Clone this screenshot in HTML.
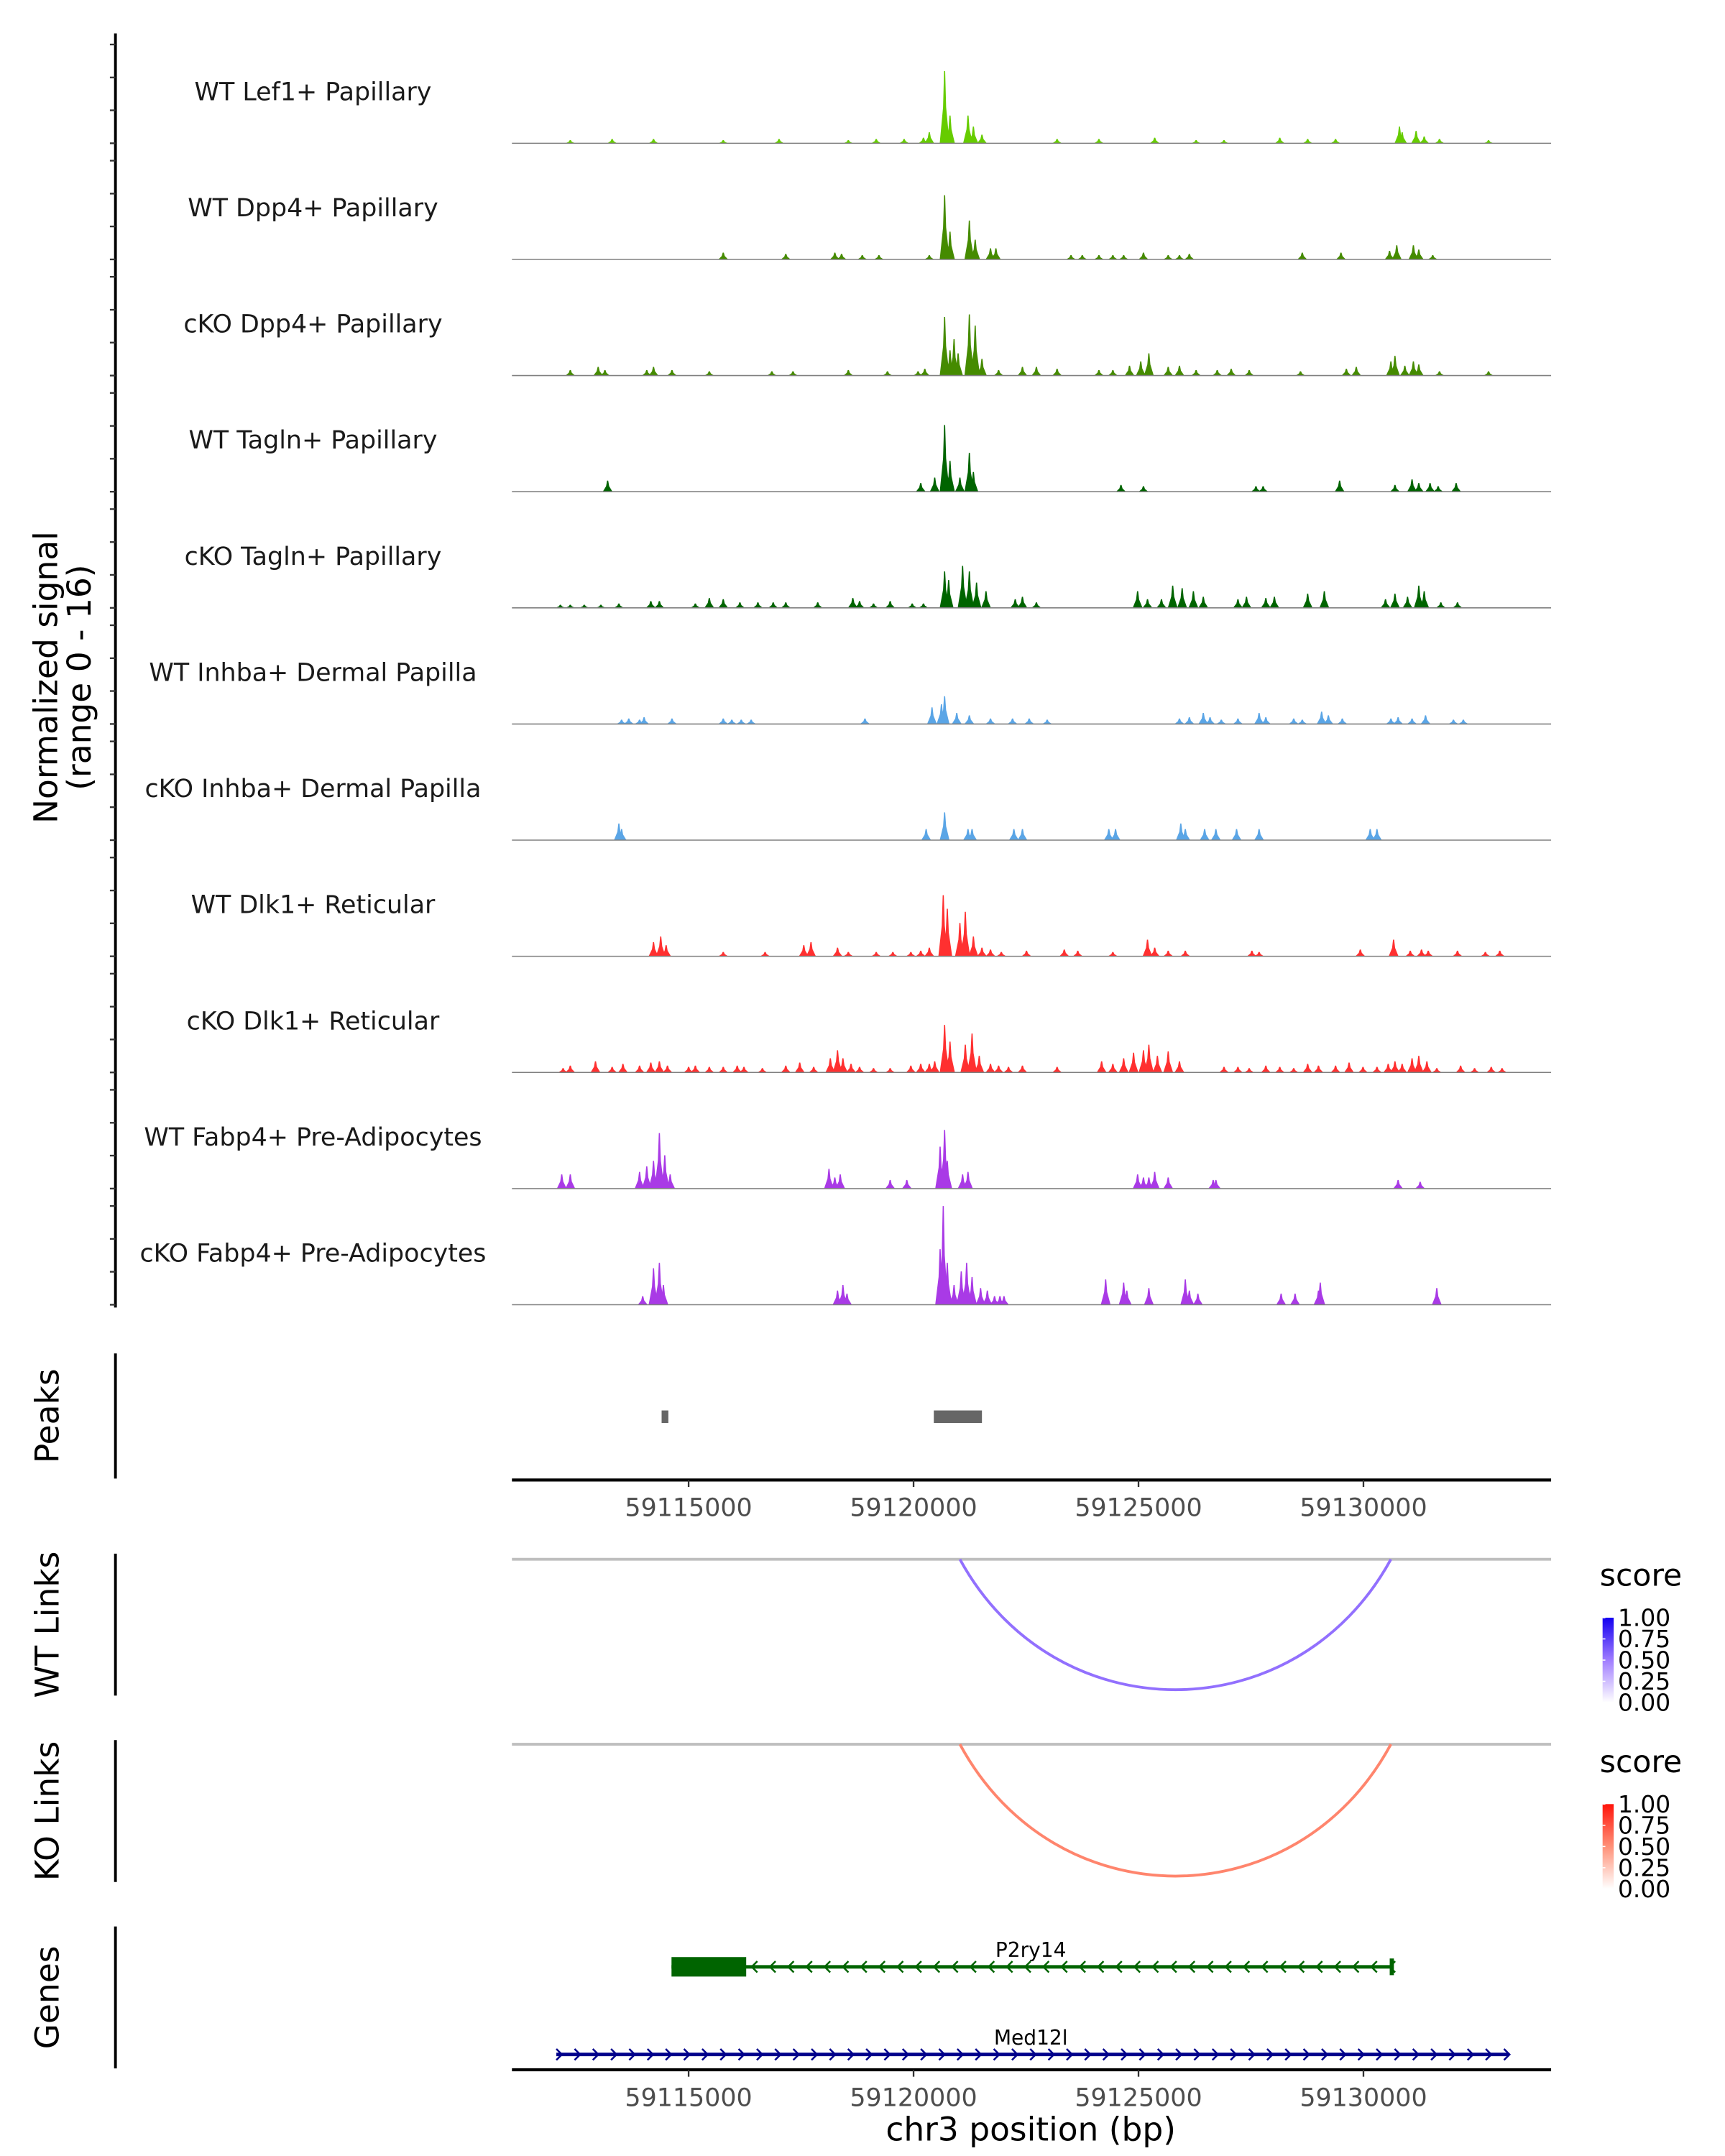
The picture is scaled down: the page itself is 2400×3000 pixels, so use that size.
<!DOCTYPE html>
<html><head><meta charset="utf-8"><style>
html,body{margin:0;padding:0;background:#fff;}
svg{display:block;font-family:"DejaVu Sans","Liberation Sans",sans-serif;}
</style></head><body>
<svg id="chart" width="2400" height="3000" viewBox="0 0 1240 1550" xmlns="http://www.w3.org/2000/svg">
<rect width="1240" height="1550" fill="#fff"/>
</svg>
<script>
// Positions are kb beyond 59,110,000 bp; values are normalized signal (0-16)
const trackNames = ["WT Lef1+ Papillary","WT Dpp4+ Papillary","cKO Dpp4+ Papillary","WT Tagln+ Papillary","cKO Tagln+ Papillary","WT Inhba+ Dermal Papilla","cKO Inhba+ Dermal Papilla","WT Dlk1+ Reticular","cKO Dlk1+ Reticular","WT Fabp4+ Pre-Adipocytes","cKO Fabp4+ Pre-Adipocytes"];
const trackColors = ["#66cc00","#458b00","#458b00","#006400","#006400","#5aa5e6","#5aa5e6","#ff3030","#ff3030","#a93ae6","#a93ae6"];
const pos0 = [10.69,10.81,11.21,11.33,11.52,10.35,10.22,20.80,20.86,21.17,21.35,21.69,15.36,18.14,18.76,16.28,2.37,3.30,4.22,5.77,7.01,8.55,9.17,9.79,13.19,14.12,16.90,19.38,22.78];
const val0 = [11.7,4.5,4.5,2.7,1.4,1.8,0.9,2.7,1.8,2.0,1.1,0.7,0.9,0.9,0.7,0.5,0.5,0.7,0.7,0.5,0.7,0.5,0.7,0.7,0.7,0.7,0.5,0.7,0.5];
const pos1 = [10.69,10.81,11.24,11.37,11.71,11.83,5.77,7.16,8.25,8.40,8.86,9.23,10.35,13.50,13.75,14.12,14.43,14.67,15.11,15.66,15.91,16.13,18.64,19.50,20.58,20.74,21.11,21.23,21.54];
const val1 = [10.4,4.5,6.3,3.2,1.8,1.8,1.1,0.9,1.1,0.9,0.7,0.7,0.7,0.7,0.7,0.7,0.7,0.7,1.1,0.7,0.7,0.9,1.1,1.1,1.4,2.3,2.3,1.6,0.7];
const pos2 = [10.69,10.81,10.99,11.24,11.37,10.90,11.52,2.37,2.99,3.14,4.07,4.22,4.63,5.46,6.85,7.32,8.55,9.42,10.10,10.25,11.89,12.42,12.73,13.19,14.12,14.43,14.80,15.05,15.23,15.66,15.91,16.28,16.75,17.06,17.46,18.60,19.62,19.84,20.61,20.70,20.92,21.11,21.23,21.69,22.78];
const val2 = [9.5,4.1,3.6,9.9,8.1,5.9,2.7,0.9,1.4,0.9,0.9,1.4,0.9,0.7,0.7,0.7,0.9,0.7,0.7,1.1,0.9,1.4,1.4,1.1,0.9,0.9,1.6,2.3,3.6,1.4,1.6,0.9,0.9,1.1,0.9,0.7,1.1,1.4,2.3,3.2,1.6,2.3,1.8,0.7,0.7];
const pos3 = [10.69,10.81,11.24,11.33,10.16,10.47,11.03,3.20,14.61,15.11,17.61,17.77,19.47,20.70,21.08,21.23,21.48,21.66,22.06];
const val3 = [10.8,5.0,6.3,3.2,1.4,2.3,2.3,1.8,1.1,0.9,0.9,0.9,1.8,1.1,2.0,1.4,1.4,0.9,1.4];
const pos4 = [10.69,10.78,11.09,11.24,11.40,11.61,2.15,2.37,2.68,3.05,3.45,4.16,4.35,5.15,5.46,5.77,6.14,6.54,6.88,7.16,7.87,8.65,8.80,9.11,9.48,9.97,10.22,12.26,12.42,12.73,14.98,15.20,15.51,15.76,15.97,16.22,16.44,17.21,17.40,17.83,18.02,18.76,19.13,20.49,20.70,20.98,21.23,21.35,21.72,22.09];
const val4 = [5.9,4.5,6.8,5.9,4.1,2.7,0.5,0.5,0.5,0.5,0.7,1.1,1.1,0.7,1.6,1.4,0.9,0.9,0.9,0.9,0.9,1.6,1.1,0.7,1.1,0.7,0.7,1.4,1.8,0.9,2.7,1.4,1.4,3.6,3.2,2.7,1.8,1.4,1.8,1.6,1.8,2.3,2.7,1.4,2.3,1.8,3.6,2.7,0.9,0.9];
const pos5 = [10.69,10.62,10.41,10.96,11.24,11.71,3.51,3.67,3.91,4.01,4.63,5.77,5.96,6.17,6.39,8.92,12.20,12.57,12.97,15.91,16.13,16.44,16.59,16.84,17.21,17.68,17.83,18.45,18.64,19.07,19.22,19.53,20.61,20.77,21.08,21.38,22.00,22.22];
const val5 = [4.5,3.2,2.7,1.8,1.4,0.9,0.7,0.9,0.7,1.1,0.9,0.9,0.7,0.7,0.7,0.9,0.9,0.9,0.7,0.9,1.1,1.8,1.1,0.7,0.9,1.8,1.1,0.9,0.7,2.0,1.4,0.9,0.9,1.1,0.9,1.4,0.7,0.7];
const pos6 = [3.45,3.51,10.69,10.28,11.21,11.30,12.23,12.42,14.34,14.49,15.94,16.04,16.47,16.72,17.18,17.68,20.15,20.30];
const val6 = [2.7,1.8,4.5,1.8,1.8,1.8,1.8,1.8,1.8,1.8,2.7,1.8,1.8,1.8,1.8,1.8,1.8,1.8];
const pos7 = [10.66,10.75,11.15,11.03,11.33,11.52,11.71,4.22,4.38,4.50,5.77,6.70,7.56,7.72,8.31,8.55,9.17,9.54,9.94,10.16,10.35,11.95,12.51,13.35,13.65,14.43,15.20,15.36,15.66,16.04,17.52,17.68,19.93,20.67,21.04,21.29,21.44,22.09,22.71,23.03];
const val7 = [9.9,7.7,7.2,5.4,3.2,1.4,1.1,2.3,3.2,1.8,0.7,0.7,1.8,2.3,1.4,0.7,0.7,0.7,0.7,0.9,1.4,0.7,0.9,1.1,0.9,0.7,2.7,1.4,0.9,0.9,0.9,0.7,1.1,2.7,0.9,1.1,0.9,0.9,0.7,0.9];
const pos8 = [10.69,10.81,11.15,11.30,11.46,2.21,2.37,2.93,3.30,3.54,3.91,4.16,4.35,4.53,5.00,5.15,5.46,5.77,6.08,6.23,6.64,7.16,7.47,7.78,8.15,8.31,8.43,8.61,8.80,9.11,9.48,9.94,10.16,10.35,10.47,11.71,11.89,12.11,12.42,13.19,14.18,14.43,14.67,14.89,15.11,15.23,15.42,15.66,15.91,16.90,17.21,17.46,17.83,18.14,18.45,18.76,19.00,19.38,19.68,19.99,20.30,20.55,20.70,20.86,21.08,21.23,21.41,21.63,22.16,22.47,22.84,23.08];
const val8 = [7.7,5.0,4.5,6.3,2.7,0.7,1.1,1.8,0.9,1.4,1.1,1.6,1.8,1.1,0.9,1.1,0.9,0.9,1.1,0.9,0.7,1.1,1.6,0.9,2.3,3.6,2.3,1.4,0.9,0.7,0.7,1.1,1.4,1.4,1.8,1.4,1.1,0.9,1.1,0.9,1.8,1.4,2.3,3.2,3.6,4.5,2.7,3.4,1.8,0.9,0.9,0.7,1.1,0.9,0.7,1.4,1.1,1.1,1.6,0.9,0.9,1.4,1.8,1.4,2.3,2.7,1.8,0.7,1.1,0.7,0.9,0.7];
const pos9 = [2.18,2.37,3.91,4.07,4.22,4.35,4.47,4.59,8.12,8.25,8.37,9.48,9.85,10.59,10.69,10.75,11.09,11.21,14.98,15.11,15.23,15.36,15.66,16.66,16.72,20.77,21.26];
const val9 = [2.3,2.3,2.7,3.6,4.5,9.0,5.4,2.3,3.2,1.8,2.3,1.4,1.4,6.8,9.5,4.5,2.3,2.7,2.3,1.8,1.8,2.7,1.8,1.4,1.4,1.4,1.1];
const pos10 = [3.98,4.22,4.35,4.44,8.31,8.43,8.52,10.59,10.66,10.75,10.90,11.06,11.18,11.30,11.49,11.64,11.80,11.92,12.01,14.27,14.67,14.74,15.23,16.04,16.13,16.32,18.17,18.48,19.00,19.04,21.63];
const val10 = [1.4,5.9,6.8,3.2,2.3,3.2,1.8,9.0,16.0,6.8,3.2,5.4,6.8,4.5,2.7,2.3,1.4,1.4,1.4,4.1,3.6,2.3,2.7,4.1,2.3,1.8,1.8,1.8,2.3,3.6,2.7];
const trackPos = [pos0,pos1,pos2,pos3,pos4,pos5,pos6,pos7,pos8,pos9,pos10];
const trackVal = [val0,val1,val2,val3,val4,val5,val6,val7,val8,val9,val10];
const peakStarts = [4.40,10.45];
const peakEnds = [4.55,11.52];
const xTicks = [59115000,59120000,59125000,59130000];
const linkStarts = [11.03];
const linkEnds = [20.61];
const wtScores = [0.55];
const koScores = [0.55];
const legendTicks = ["1.00","0.75","0.50","0.25","0.00"];
const geneNames = ["P2ry14","Med12l"];
const geneStarts = [4.62,2.06];
const geneEnds = [20.63,23.22];
const geneStrand = [-1,1];
const cdsStarts = [4.62];
const cdsEnds = [6.28];

const NS = "http://www.w3.org/2000/svg";
const svg = document.getElementById("chart");
const X0 = 368, X1 = 1115, D0 = 59111073, D1 = 59134171;
function xs(bp){ return X0 + (bp - D0) / (D1 - D0) * (X1 - X0); }
function xk(kb){ return xs(59110000 + kb * 1000); }
const YMAX = 16, TRACK_H = 71;
function ys(base, v){ return base - v / YMAX * TRACK_H; }
function el(tag, attrs, parent){ const e = document.createElementNS(NS, tag); for (const k in attrs) e.setAttribute(k, attrs[k]); (parent||svg).appendChild(e); return e; }
function txt(s, attrs, parent){ const e = el("text", attrs, parent); e.textContent = s; return e; }

const ax = el("line",{x1:83,y1:24,x2:83,y2:940,stroke:"#000","stroke-width":2});


const baselines = trackNames.map((_, i) => 103 + i * 83.5);
baselines.forEach((b, i) => {
  [0, 23.7, 47.3, 71].forEach(o => {
    const t = el("line",{x1:79,y1:b-o,x2:83,y2:b-o,stroke:"#333","stroke-width":1.2});
    
    
  });
  const lab = txt(trackNames[i],{x:225,y:b-31,"text-anchor":"middle","font-size":18,fill:"#1a1a1a"});
  
  
  const g = el("g",{});
  
  
  const P = trackPos[i], V = trackVal[i];
  P.forEach((p, j) => {
    const cx = xk(p), w = 2.2, top = ys(b, V[j]);
    const s = el("path",{d:`M${cx-w*1.6},${b} L${cx-w*0.5},${(top+b)/2} L${cx-0.4},${top} L${cx+0.4},${top} L${cx+w*0.5},${(top+b)/2} L${cx+w*1.6},${b} Z`,fill:trackColors[i]}, g);
    
    
  });
  const bl = el("line",{x1:X0,y1:b,x2:X1,y2:b,stroke:"#808080","stroke-width":0.8});
  
  
});
const yt = txt("",{transform:"translate(45,487) rotate(-90)","text-anchor":"middle","font-size":23.5,fill:"#000"});


const t1 = el("tspan",{x:0,y:-4},yt); t1.textContent = "Normalized signal";
const t2 = el("tspan",{x:0,y:20},yt); t2.textContent = "(range 0 - 16)";

function sideLabel(s, y, name, y1, y2){
  const t = txt(s,{transform:`translate(42,${y}) rotate(-90)`,"text-anchor":"middle","font-size":23.5,fill:"#000"});
  
  
  const l = el("line",{x1:83,y1:y1,x2:83,y2:y2,stroke:"#000","stroke-width":2});
  
  
}
sideLabel("Peaks",1018,"peaks-label",973,1063);
sideLabel("WT Links",1168,"wt-links-label",1117,1219);
sideLabel("KO Links",1302,"ko-links-label",1251,1353);
sideLabel("Genes",1436,"genes-label",1385,1487);

peakStarts.forEach((s, i) => {
  const r = el("rect",{x:xk(s),y:1014,width:Math.max(xk(peakEnds[i])-xk(s),4),height:9,fill:"#666"});
  
  
});

function xAxis(y, name){
  const l = el("line",{x1:X0,y1:y,x2:X1,y2:y,stroke:"#000","stroke-width":2.2});
  
  
  xTicks.forEach(t => {
    const tk = el("line",{x1:xs(t),y1:y,x2:xs(t),y2:y+5,stroke:"#333","stroke-width":1.2});
    
    
    const tl = txt(String(t),{x:xs(t),y:y+26,"text-anchor":"middle","font-size":18,fill:"#4d4d4d"});
    
    
  });
}
xAxis(1064,"peaks-x-axis");

function mix(a, b, t){ return a.map((v, k) => Math.round(v + (b[k] - v) * t)); }
function links(yTop, depth, scores, mid, hi, name, legY){
  const gl = el("line",{x1:X0,y1:yTop,x2:X1,y2:yTop,stroke:"#bebebe","stroke-width":2});
  
  
  linkStarts.forEach((s, i) => {
    const a = xk(s), b = xk(linkEnds[i]), sc = scores[i];
    const c = sc < 0.5 ? mix([255,255,255], mid, sc / 0.5) : mix(mid, hi, (sc - 0.5) / 0.5);
    const p = el("path",{d:`M${a},${yTop} C${a+(b-a)*0.22},${yTop+depth*1.33} ${b-(b-a)*0.22},${yTop+depth*1.33} ${b},${yTop}`,fill:"none",stroke:`rgb(${c[0]},${c[1]},${c[2]})`,"stroke-width":2});
    
    
  });
  const lt = txt("score",{x:1150,y:legY,"font-size":22,fill:"#000"});
  
  
  const gid = name+"-grad";
  const defs = el("defs",{});
  const lg = el("linearGradient",{id:gid,x1:0,y1:1,x2:0,y2:0},defs);
  el("stop",{offset:"0","stop-color":"#ffffff"},lg);
  el("stop",{offset:"0.5","stop-color":`rgb(${mid[0]},${mid[1]},${mid[2]})`},lg);
  el("stop",{offset:"1","stop-color":`rgb(${hi[0]},${hi[1]},${hi[2]})`},lg);
  const bar = el("rect",{x:1152,y:legY+23,width:8,height:61,fill:`url(#${gid})`});
  
  
  legendTicks.forEach((t, i) => {
    const yy = legY + 23 + i * 15.25;
    el("line",{x1:1152,y1:yy,x2:1154,y2:yy,stroke:"#fff","stroke-width":0.8});
    const lb = txt(t,{x:1163,y:yy+6,"font-size":17,fill:"#000"});
    
    
  });
}
links(1121, 94, wtScores, [160,125,255], [20,0,240], "wt-links", 1140);
links(1254, 95, koScores, [255,145,120], [255,20,10], "ko-links", 1274);

const geneY = [1414, 1477];
const geneCol = ["#006400", "#00008b"];
geneNames.forEach((n, i) => {
  const g = el("g",{});
  
  
  const y = geneY[i], a = xk(geneStarts[i]), b = xk(geneEnds[i]);
  el("line",{x1:a,y1:y,x2:b,y2:y,stroke:geneCol[i],"stroke-width":2.5},g);
  if (i < cdsStarts.length) {
    el("rect",{x:xk(cdsStarts[i]),y:y-7,width:xk(cdsEnds[i])-xk(cdsStarts[i]),height:14,fill:geneCol[i]},g);
    el("line",{x1:b,y1:y-6,x2:b,y2:y+6,stroke:geneCol[i],"stroke-width":3},g);
  }
  const step = 13.1;
  const startArrow = i < cdsStarts.length ? xk(cdsEnds[i]) + 4 : a;
  for (let x = startArrow; x <= b; x += step) {
    const d = geneStrand[i] < 0 ? `M${x+4},${y-4} L${x},${y} L${x+4},${y+4}` : `M${x},${y-4} L${x+4},${y} L${x},${y+4}`;
    el("path",{d:d,fill:"none",stroke:geneCol[i],"stroke-width":1.3},g);
  }
  const lb = txt(n,{x:741,y:y-7,"text-anchor":"middle","font-size":14.5,fill:"#000"});
  
  
});
xAxis(1488,"genes-x-axis");
const xt = txt("chr3 position (bp)",{x:741,y:1539,"text-anchor":"middle","font-size":23.5,fill:"#000"});


</script>
</body></html>
